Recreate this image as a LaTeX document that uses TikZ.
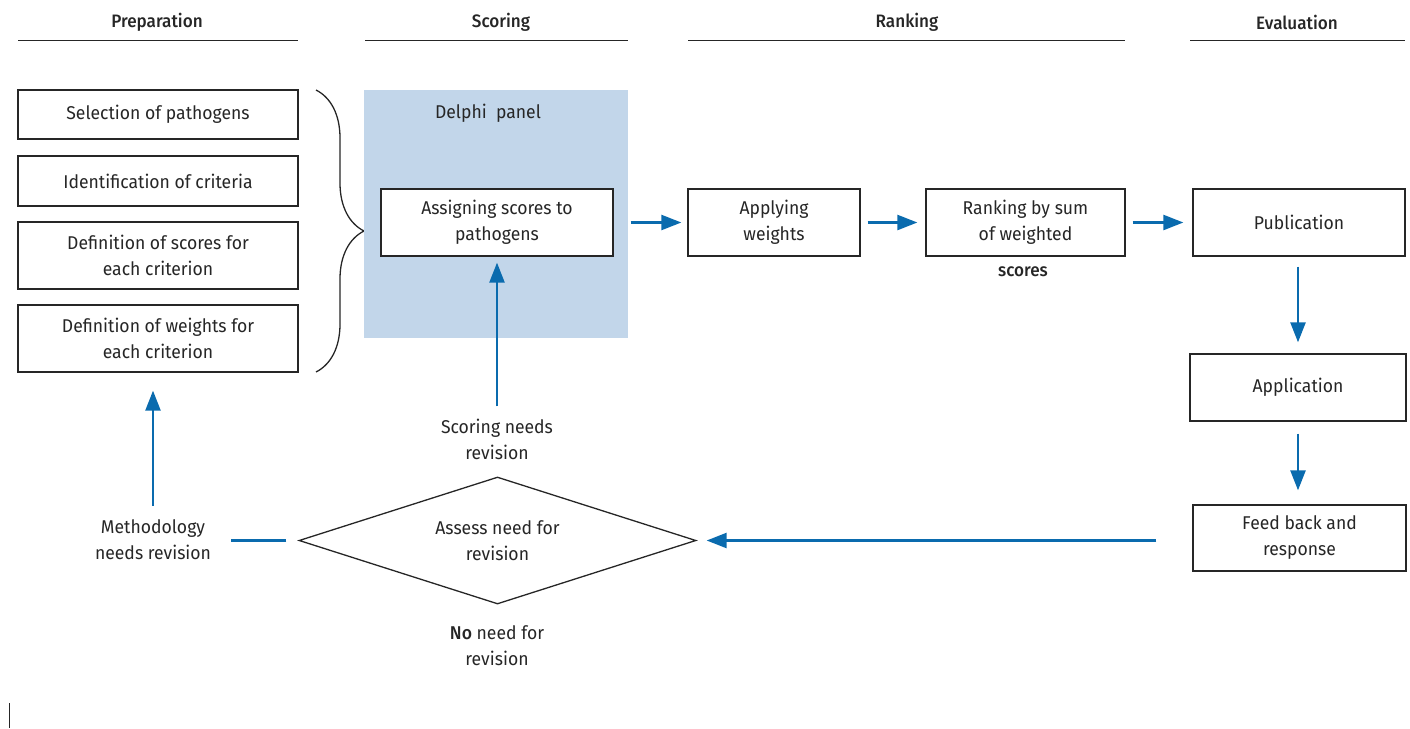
\documentclass[tikz,border=0pt]{standalone}
\usepackage{fontspec}
\setmainfont[FakeStretch=0.95]{Fira Sans}
\newfontfamily\medfont[FakeStretch=0.95]{Fira Sans Medium}
\usetikzlibrary{shapes.geometric,arrows.meta,decorations.pathreplacing}

\definecolor{flowblue}{HTML}{0A6BAE}
\definecolor{panelblue}{HTML}{C2D6EA}
\definecolor{inkgrey}{HTML}{262626}

\begin{document}
\begin{tikzpicture}[x=1pt, y=-1pt,
  every node/.style={font=\fontsize{18.5}{26}\selectfont, text=inkgrey, align=center, inner sep=2pt},
  stepbox/.style={draw=inkgrey, line width=1.3pt, fill=white, inner sep=0pt},
  header/.style={font=\fontsize{18}{20}\selectfont\medfont},
  rule/.style={draw=inkgrey, line width=1pt},
  flow/.style={draw=flowblue, line width=2.4pt, -{Triangle[length=20pt, width=15pt]}},
  flowline/.style={draw=flowblue, line width=2.4pt}]
  \useasboundingbox (0,0) rectangle (1410,728);

  % Column headers
  \node[header] (hprep) at (157,22) {Preparation};
  \node[header] (hscore) at (501,22) {Scoring};
  \node[header] (hrank) at (907,22) {Ranking};
  \node[header] (heval) at (1297,22) {Evaluation};
  \draw[rule] (18,40) -- (298,40);
  \draw[rule] (365,40) -- (628,40);
  \draw[rule] (688,40) -- (1125,40);
  \draw[rule] (1190,40) -- (1405,40);

  % Preparation
  \node[stepbox, minimum width=280, minimum height=49] (select) at (158,114.5) {Selection of pathogens};
  \node[stepbox, minimum width=280, minimum height=50] (criteria) at (158,181) {Identification of criteria};
  \node[stepbox, minimum width=280, minimum height=67] (scoredef) at (158,255.5) {Definition of scores for\\each criterion};
  \node[stepbox, minimum width=280, minimum height=67] (weightdef) at (158,338.5) {Definition of weights for\\each criterion};
  \draw[inkgrey, line width=1.3pt, decorate, decoration={brace, amplitude=48pt}] (316,90) -- (316,372);

  % Scoring
  \node[fill=panelblue, minimum width=264, minimum height=248, inner sep=0pt] (panel) at (496,214) {};
  \node (delphi) at (488,113) {Delphi~ panel};
  \node[stepbox, minimum width=232, minimum height=67] (assign) at (497,222.5) {Assigning scores to\\pathogens};

  % Ranking
  \node[stepbox, minimum width=172, minimum height=67] (applying) at (774,222.5) {Applying\\weights};
  \node[stepbox, minimum width=199, minimum height=67] (ranking) at (1025.5,222.5) {Ranking by sum\\of weighted};
  \node[font=\fontsize{18}{20}\selectfont\medfont] (scores) at (1023,272) {scores};

  % Evaluation
  \node[stepbox, minimum width=212, minimum height=67] (publish) at (1299,222.5) {Publication};
  \node[stepbox, minimum width=216, minimum height=67] (apply) at (1298,387.5) {Application};
  \node[stepbox, minimum width=213, minimum height=66] (feedback) at (1299.5,538) {Feed back and\\response};

  % Revision loop
  \node[draw=inkgrey, line width=1.3pt, diamond, shape aspect=3.13, minimum width=397, minimum height=127, inner sep=0pt] (assess) at (497.5,540.5) {Assess need for\\revision};
  \node (scorerev) at (497,439) {Scoring needs\\revision};
  \node (methrev) at (153,540) {Methodology\\needs revision};
  \node (norev) at (497,646) {{\medfont No} need for\\revision};

  % Arrows
  \draw[flow, shorten <=17pt, shorten >=6pt] (assign) -- (applying);
  \draw[flow, shorten <=7pt, shorten >=8pt] (applying) -- (ranking);
  \draw[flow, shorten <=7pt, shorten >=9pt] (ranking) -- (publish);
  \draw[flow, shorten <=10pt, shorten >=11pt] (publish.south -| apply.north) -- (apply.north);
  \draw[flow, shorten <=12pt, shorten >=14pt] (apply) -- (apply |- feedback.north);
  \draw[flow, shorten <=36pt, shorten >=10pt] (feedback.west |- assess.east) -- (assess.east);
  \draw[flow, shorten <=10pt, shorten >=6pt] (scorerev) -- (assign);
  \draw[flowline, shorten <=12pt, shorten >=18pt] (assess.west) -- (methrev.east |- assess.west);
  \draw[flow, shorten <=12pt, shorten >=18pt] (methrev) -- (methrev |- weightdef.south);

  \draw[inkgrey, line width=0.8pt] (9,703) -- (9,728);
\end{tikzpicture}
\end{document}
